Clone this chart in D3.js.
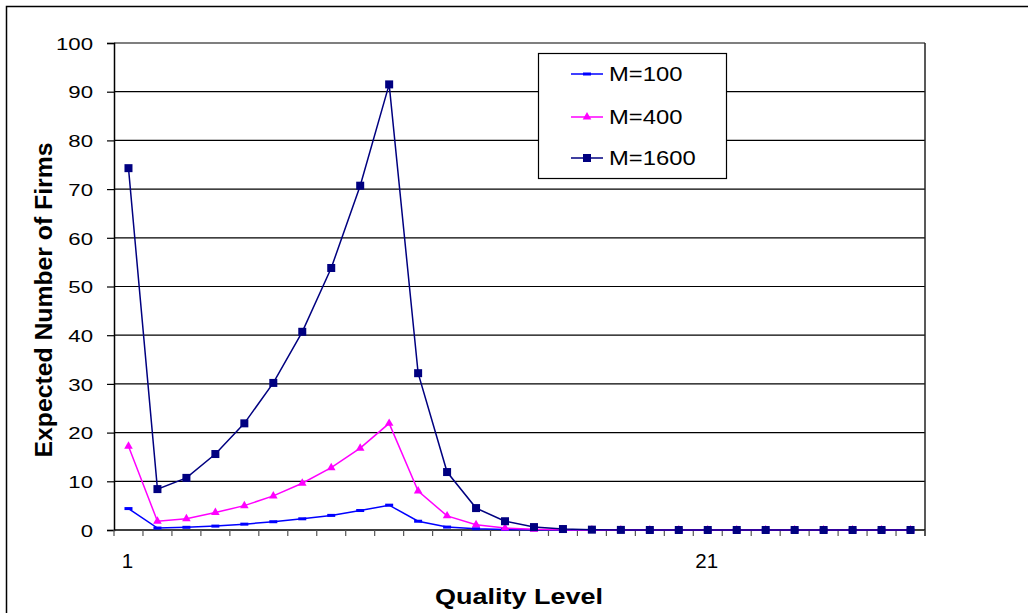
<!DOCTYPE html>
<html><head><meta charset="utf-8">
<script src="https://cdn.jsdelivr.net/npm/d3@7"></script>
<style>body{margin:0;background:#fff}svg{display:block}text{font-family:"Liberation Sans",Arial,sans-serif}</style>
</head><body>
<svg id="c" width="1028" height="613"></svg>
<script>
const categories = d3.range(1, 29);
const m100 = [4.4,0.4,0.55,0.8,1.2,1.7,2.3,3.0,4.0,5.1,1.8,0.6,0.25,0.1,0.04,0.02,0.01,0,0,0,0,0,0,0,0,0,0,0];
const m400 = [17.2,1.8,2.3,3.6,5.0,7.0,9.6,12.8,16.8,21.9,8.0,2.9,1.1,0.4,0.15,0.05,0.02,0,0,0,0,0,0,0,0,0,0,0];
const m1600 = [74.3,8.4,10.7,15.6,21.9,30.2,40.7,53.8,70.7,91.5,32.2,11.9,4.5,1.8,0.6,0.2,0.07,0.02,0,0,0,0,0,0,0,0,0,0];
const yTicks = [0,10,20,30,40,50,60,70,80,90,100];
const xTickLabels = ["1","21"];
const seriesNames = ["M=100","M=400","M=1600"];
const seriesColors = ["#0000ff","#ff00ff","#000080"];

const svg = d3.select("#c");
const L=114, R=925, T=43, B=530;
// outer frame
svg.append("path").attr("d","M6.5,613 V6.5 H1028").attr("fill","none").attr("stroke","#000").attr("stroke-width",1.5);

const x = d3.scaleBand().domain(categories).range([L,R]);
const y = d3.scaleLinear().domain([0,100]).range([B,T]);

// gridlines
svg.append("g").selectAll("line").data(yTicks.filter(d=>d>0)).join("line")
  .attr("x1",L).attr("x2",R).attr("y1",d=>y(d)).attr("y2",d=>y(d))
  .attr("stroke","#000").attr("stroke-width",1.2);
// right border
svg.append("line").attr("x1",R).attr("x2",R).attr("y1",T).attr("y2",B+6).attr("stroke","#222").attr("stroke-width",1.5);

// y axis
const ya = svg.append("g").attr("transform",`translate(${L},0)`)
  .call(d3.axisLeft(y).tickValues(yTicks).tickSize(7));
ya.select(".domain").attr("stroke","#000").attr("stroke-width",1.5);
ya.selectAll(".tick line").attr("stroke","#000").attr("stroke-width",1.2);
ya.selectAll(".tick text").attr("x",null).attr("dy","0.36em")
  .attr("transform",`translate(${93-L},0) scale(1.29,1)`)
  .attr("font-size",17.2).attr("fill","#000").style("font-family","'Liberation Sans',Arial,sans-serif");

// x axis
const xa = svg.append("g").attr("transform",`translate(0,${B})`);
xa.append("line").attr("x1",L).attr("x2",R).attr("y1",0).attr("y2",0).attr("stroke","#000").attr("stroke-width",1.5);
const bounds = categories.map(c=>x(c)).concat([R]);
xa.selectAll("line.tk").data(bounds).join("line").attr("class","tk")
  .attr("x1",d=>d).attr("x2",d=>d).attr("y1",0).attr("y2",6).attr("stroke","#555").attr("stroke-width",1.2);
xa.selectAll("text").data(xTickLabels).join("text")
  .attr("x",d=>x(+d)+x.bandwidth()/2 - 1).attr("y",38)
  .attr("text-anchor","middle").attr("font-size",20.5).attr("fill","#000").text(d=>d);

// axis titles
svg.append("text").attr("x",519).attr("y",604).attr("text-anchor","middle")
  .attr("font-size",22).attr("font-weight","bold")
  .attr("textLength",168).attr("lengthAdjust","spacingAndGlyphs").text("Quality Level");
svg.append("text").attr("transform","translate(52,300.5) rotate(-90)").attr("x",-157).attr("y",0)
  .attr("font-size",23).attr("font-weight","bold")
  .attr("textLength",315).attr("lengthAdjust","spacingAndGlyphs").text("Expected Number of Firms");

const cx = c => x(c)+x.bandwidth()/2;
const line = d3.line().x((d,i)=>cx(categories[i])).y(d=>y(d));
const data = [m100,m400,m1600];

function marker(g, k, px, py){
  if(k===0){
    g.append("rect").attr("x",px-4).attr("y",py-1.5).attr("width",8).attr("height",3).attr("fill",seriesColors[0]);
  } else if(k===1){
    g.append("path").attr("d",d3.symbol(d3.symbolTriangle,32)()).attr("transform",`translate(${px},${py})`).attr("fill",seriesColors[1]);
  } else {
    g.append("rect").attr("x",px-4).attr("y",py-4).attr("width",8).attr("height",8).attr("fill",seriesColors[2]);
  }
}

data.forEach((vals,k)=>{
  const g = svg.append("g");
  g.append("path").datum(vals).attr("d",line).attr("fill","none").attr("stroke",seriesColors[k]).attr("stroke-width",1.5);
  vals.forEach((v,i)=>marker(g,k,cx(categories[i]),y(v)));
});

// legend
const lg = svg.append("g");
lg.append("rect").attr("x",538.5).attr("y",53.5).attr("width",188).attr("height",125).attr("fill","#fff").attr("stroke","#000").attr("stroke-width",1.2);
const rowsY=[74,117,158];
seriesNames.forEach((n,k)=>{
  lg.append("line").attr("x1",571).attr("x2",603).attr("y1",rowsY[k]).attr("y2",rowsY[k]).attr("stroke",seriesColors[k]).attr("stroke-width",1.5);
  marker(lg,k,587,rowsY[k]);
  lg.append("text").attr("transform",`translate(609,${rowsY[k]+7}) scale(1.22,1)`).attr("font-size",19.5).attr("fill","#000").text(n);
});
</script>
</body></html>
